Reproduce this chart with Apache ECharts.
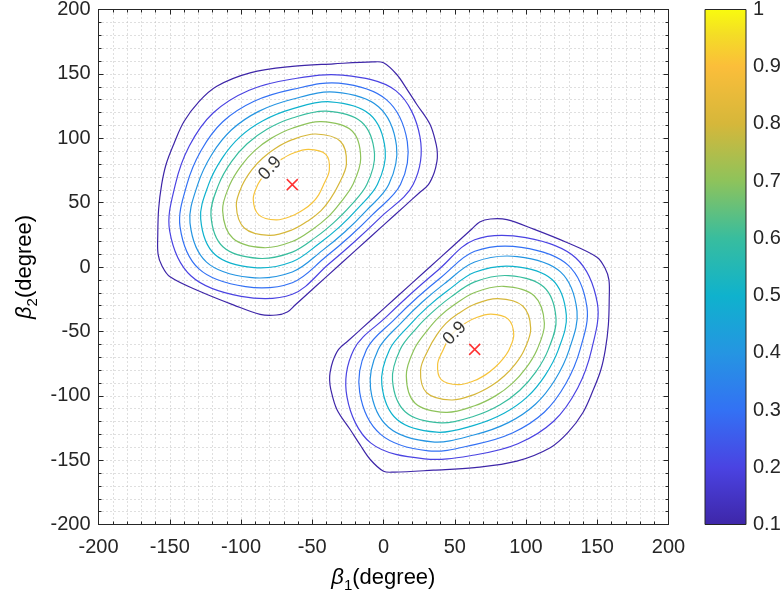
<!DOCTYPE html>
<html>
<head>
<meta charset="utf-8">
<script src="https://cdn.jsdelivr.net/npm/echarts@6/dist/echarts.min.js"></script>
<style>
  html, body { margin: 0; padding: 0; background: #ffffff; }
  #chart { width: 783px; height: 600px; }
</style>
</head>
<body>
<div id="chart"></div>
<script>
// Contour levels of the normalised spectrum and their parula colours
const levels = [0.1, 0.2, 0.3, 0.4, 0.5, 0.6, 0.7, 0.8, 0.9];
const levelColors = ['#3e26a8', '#4a43e2', '#3371f4', '#2595e2', '#0fb2cd',
                     '#38bd9e', '#8ec35b', '#d6b73a', '#f6c43c'];

// Tick values
const axisTicks = [-200, -150, -100, -50, 0, 50, 100, 150, 200];
const barTicks = [0.1, 0.2, 0.3, 0.4, 0.5, 0.6, 0.7, 0.8, 0.9, 1];

// Spectrum peaks (beta1, beta2)
const peakX = [-64, 64];
const peakY = [64, -64];

// Where the 0.9 contour is labelled
const labelX = [-79.5, 50];
const labelY = [76.6, -51.5];

// Closed contour rings around the peak at (-64, 64), points as [beta1, beta2]
const ringA01 = [[31.5,64],[35.5,73],[37.5,82],[37.8,88],[37,95],[32.7,110.6],[23.4,126.2],[16.5,138],[9.3,149.5],[0,158.6],[-7.5,159.3],[-35,157.8],[-64,155.8],[-93.6,150.8],[-117,140.4],[-129.5,128.5],[-140,113],[-147,96],[-152.5,80],[-155.7,64],[-157.8,45],[-158.4,25],[-158.2,10],[-155.5,1],[-149.8,-7.6],[-128.7,-19],[-105.4,-29.4],[-86.6,-36.8],[-75,-37.3],[-67.5,-35],[-62,-29.5],[-55,-22.5],[-40,-7.5],[-20,12.5],[0,32.5],[15,47.5],[25,57.5]];
const ringA02 = [[20.8,64],[25.6,101.1],[8.8,136.8],[-28.8,149],[-64,146],[-94.3,137.3],[-119.6,119.6],[-136.3,94],[-146.1,64],[-150.1,28.3],[-135,-7],[-99.9,-22.8],[-64,-21.2],[-38.4,2.3],[-20,20],[-2.3,38.4]];
const ringA03 = [[11.9,64],[16.7,97.4],[2,130],[-31.4,142.8],[-64,137.9],[-90.8,128.7],[-112.8,112.8],[-128,90.5],[-138,64],[-142.8,31.4],[-129.5,-1.5],[-96.8,-15.3],[-64,-12.2],[-40.7,7.7],[-23.7,23.7],[-7.7,40.7]];
const ringA04 = [[3.7,64],[9.1,94.3],[-3.5,124.5],[-34.3,135.8],[-64,130.3],[-87.6,120.9],[-106.6,106.6],[-120.5,87.4],[-130.4,64],[-135.8,34.3],[-124.2,3.8],[-93.9,-8.1],[-64,-3.9],[-42.8,12.9],[-27.2,27.2],[-12.9,42.8]];
const ringA05 = [[-4.3,64],[1.2,91],[-9.5,118.5],[-37.4,128.3],[-64,122.8],[-84.6,113.6],[-100.9,100.9],[-113.3,84.4],[-122.8,64],[-128.3,37.4],[-118.3,9.7],[-90.7,-0.5],[-64,4.1],[-45.1,18.3],[-31,31],[-18.3,45.1]];
const ringA06 = [[-11.7,64],[-6.3,87.9],[-15.4,112.6],[-40.3,121.1],[-64,115.7],[-81.8,107],[-95.7,95.7],[-106.8,81.7],[-115.7,64],[-121.1,40.3],[-112.5,15.5],[-87.7,6.7],[-64,11.6],[-47.2,23.4],[-34.7,34.7],[-23.4,47.2]];
const ringA07 = [[-21.5,64],[-16,84.4],[-22.2,105.8],[-43.8,112.9],[-64,107.8],[-78.9,99.9],[-90.4,90.4],[-99.8,78.8],[-107.8,64],[-112.9,43.8],[-105.7,22.3],[-84.3,15],[-64,19.8],[-49.6,29.4],[-38.9,38.9],[-30.5,49.6]];
const ringA08 = [[-31.5,64],[-26,80.3],[-30.3,97.7],[-47.7,103.3],[-64,98.9],[-75.7,92.3],[-84.7,84.7],[-92.3,75.7],[-98.9,64],[-103.3,47.7],[-97.7,30.3],[-80.3,24.6],[-64,28.9],[-52.5,36.2],[-43.8,43.8],[-37.5,52.5]];
const ringA09 = [[-42,64],[-38,75.4],[-40.5,87.5],[-52.6,91.4],[-64,88.2],[-72,83.4],[-78.1,78.1],[-83.4,72],[-88.2,64],[-91.4,52.6],[-87.5,40.5],[-75.4,36.6],[-64,39.8],[-56,44.6],[-49.9,49.9],[-45.5,56]];

// Closed contour rings around the peak at (64, -64)
const ringB01 = [[-31.5,-64],[-35.5,-73],[-37.5,-82],[-37.8,-88],[-37,-95],[-32.7,-110.6],[-23.4,-126.2],[-16.5,-138],[-9.3,-149.5],[0,-158.6],[7.5,-159.3],[35,-157.8],[64,-155.8],[93.6,-150.8],[117,-140.4],[129.5,-128.5],[140,-113],[147,-96],[152.5,-80],[155.7,-64],[157.8,-45],[158.4,-25],[158.2,-10],[155.5,-1],[149.8,7.6],[128.7,19],[105.4,29.4],[86.6,36.8],[75,37.3],[67.5,35],[62,29.5],[55,22.5],[40,7.5],[20,-12.5],[0,-32.5],[-15,-47.5],[-25,-57.5]];
const ringB02 = [[-20.8,-64],[-25.6,-101.1],[-8.8,-136.8],[28.8,-149],[64,-146],[94.3,-137.3],[119.6,-119.6],[136.3,-94],[146.1,-64],[150.1,-28.3],[135,7],[99.9,22.8],[64,21.2],[38.4,-2.3],[20,-20],[2.3,-38.4]];
const ringB03 = [[-11.9,-64],[-16.7,-97.4],[-2,-130],[31.4,-142.8],[64,-137.9],[90.8,-128.7],[112.8,-112.8],[128,-90.5],[138,-64],[142.8,-31.4],[129.5,1.5],[96.8,15.3],[64,12.2],[40.7,-7.7],[23.7,-23.7],[7.7,-40.7]];
const ringB04 = [[-3.7,-64],[-9.1,-94.3],[3.5,-124.5],[34.3,-135.8],[64,-130.3],[87.6,-120.9],[106.6,-106.6],[120.5,-87.4],[130.4,-64],[135.8,-34.3],[124.2,-3.8],[93.9,8.1],[64,3.9],[42.8,-12.9],[27.2,-27.2],[12.9,-42.8]];
const ringB05 = [[4.3,-64],[-1.2,-91],[9.5,-118.5],[37.4,-128.3],[64,-122.8],[84.6,-113.6],[100.9,-100.9],[113.3,-84.4],[122.8,-64],[128.3,-37.4],[118.3,-9.7],[90.7,0.5],[64,-4.1],[45.1,-18.3],[31,-31],[18.3,-45.1]];
const ringB06 = [[11.7,-64],[6.3,-87.9],[15.4,-112.6],[40.3,-121.1],[64,-115.7],[81.8,-107],[95.7,-95.7],[106.8,-81.7],[115.7,-64],[121.1,-40.3],[112.5,-15.5],[87.7,-6.7],[64,-11.6],[47.2,-23.4],[34.7,-34.7],[23.4,-47.2]];
const ringB07 = [[21.5,-64],[16,-84.4],[22.2,-105.8],[43.8,-112.9],[64,-107.8],[78.9,-99.9],[90.4,-90.4],[99.8,-78.8],[107.8,-64],[112.9,-43.8],[105.7,-22.3],[84.3,-15],[64,-19.8],[49.6,-29.4],[38.9,-38.9],[30.5,-49.6]];
const ringB08 = [[31.5,-64],[26,-80.3],[30.3,-97.7],[47.7,-103.3],[64,-98.9],[75.7,-92.3],[84.7,-84.7],[92.3,-75.7],[98.9,-64],[103.3,-47.7],[97.7,-30.3],[80.3,-24.6],[64,-28.9],[52.5,-36.2],[43.8,-43.8],[37.5,-52.5]];
const ringB09 = [[42,-64],[38,-75.4],[40.5,-87.5],[52.6,-91.4],[64,-88.2],[72,-83.4],[78.1,-78.1],[83.4,-72],[88.2,-64],[91.4,-52.6],[87.5,-40.5],[75.4,-36.6],[64,-39.8],[56,-44.6],[49.9,-49.9],[45.5,-56]];

const ringsA = [ringA01, ringA02, ringA03, ringA04, ringA05, ringA06, ringA07, ringA08, ringA09];
const ringsB = [ringB01, ringB02, ringB03, ringB04, ringB05, ringB06, ringB07, ringB08, ringB09];

const FONT = '"Liberation Sans", Arial, Helvetica, sans-serif';
const INK = '#262626';
const GRID_DOT = { color: '#bfbfbf', width: 1, type: [1, 3] };

// Colour bar gradient (parula), bottom to top
const parulaStops = [
  { offset: 0.000, color: '#3e26a8' },
  { offset: 0.111, color: '#4a43e2' },
  { offset: 0.222, color: '#3371f4' },
  { offset: 0.333, color: '#2595e2' },
  { offset: 0.444, color: '#0fb2cd' },
  { offset: 0.556, color: '#38bd9e' },
  { offset: 0.667, color: '#8ec35b' },
  { offset: 0.778, color: '#d6b73a' },
  { offset: 0.889, color: '#fbbe3a' },
  { offset: 0.950, color: '#f4dd26' },
  { offset: 1.000, color: '#f9fb0e' }
];

function frameAxis(extra) {
  return Object.assign({
    type: 'value', min: axisTicks[0], max: axisTicks[axisTicks.length - 1], interval: 50,
    axisLine: { show: true, onZero: false, lineStyle: { color: INK, width: 1 } },
    axisTick: { show: true, inside: true, length: 5, lineStyle: { color: INK } },
    minorTick: { show: true, splitNumber: 5, length: 3, lineStyle: { color: INK } },
    axisLabel: { show: false },
    splitLine: { show: false },
    minorSplitLine: { show: false }
  }, extra);
}

const tickLabel = { show: true, color: INK, fontSize: 20, fontFamily: FONT,
                    showMinLabel: true, showMaxLabel: true };

// one closed smooth outline per contour ring
const contourSeries = [];
levels.forEach(function (lv, i) {
  [ringsA[i], ringsB[i]].forEach(function (ring) {
    contourSeries.push({
      type: 'custom',
      name: 'level ' + lv,
      xAxisIndex: 0, yAxisIndex: 0,
      silent: true,
      clip: true,
      data: ring,
      renderItem: function (params, api) {
        if (params.dataIndex !== 0) return null;
        return {
          type: 'polygon',
          shape: { points: ring.map(function (p) { return api.coord(p); }), smooth: 0.35 },
          style: { fill: 'none', stroke: levelColors[i], lineWidth: 1.2 }
        };
      }
    });
  });
});

// axis titles: beta with a lowered index, then the unit
const titleRich = {
  b: { fontSize: 22, fontStyle: 'italic', fontFamily: FONT, color: INK, verticalAlign: 'top' },
  s: { fontSize: 15, fontFamily: FONT, color: INK, lineHeight: 27, verticalAlign: 'bottom' },
  t: { fontSize: 22, fontFamily: FONT, color: INK, verticalAlign: 'top' }
};

const option = {
  backgroundColor: '#ffffff',
  animation: false,
  grid: [
    { left: 98.5, top: 9.5, width: 570, height: 515, containLabel: false, outerBoundsMode: 'none' },
    { left: 705, top: 9.5, width: 41, height: 515, containLabel: false, outerBoundsMode: 'none' }
  ],
  xAxis: [
    frameAxis({ gridIndex: 0, position: 'bottom',
      axisLabel: Object.assign({ margin: 13 }, tickLabel),
      splitLine: { show: true, lineStyle: GRID_DOT },
      minorSplitLine: { show: true, lineStyle: GRID_DOT } }),
    frameAxis({ gridIndex: 0, position: 'top' }),
    { gridIndex: 1, type: 'value', min: 0, max: 1, show: false }
  ],
  yAxis: [
    frameAxis({ gridIndex: 0, position: 'left',
      axisLabel: Object.assign({ margin: 8 }, tickLabel),
      splitLine: { show: true, lineStyle: GRID_DOT },
      minorSplitLine: { show: true, lineStyle: GRID_DOT } }),
    frameAxis({ gridIndex: 0, position: 'right' }),
    {
      gridIndex: 1, type: 'value', position: 'right',
      min: barTicks[0], max: barTicks[barTicks.length - 1], interval: 0.1,
      axisLine: { show: false, onZero: false },
      axisTick: { show: true, inside: true, length: 5, lineStyle: { color: INK } },
      axisLabel: Object.assign({ margin: 7 }, tickLabel),
      splitLine: { show: false }
    }
  ],
  graphic: [
    { type: 'text', x: 383.4, y: 580,
      style: { text: '{b|β}{s|1}{t|(degree)}', rich: titleRich, align: 'center', verticalAlign: 'middle' } },
    { type: 'text', x: 27, y: 267, rotation: Math.PI / 2,
      style: { text: '{b|β}{s|2}{t|(degree)}', rich: titleRich, align: 'center', verticalAlign: 'middle' } }
  ],
  series: contourSeries.concat([
    {
      type: 'scatter', name: 'contour label', xAxisIndex: 0, yAxisIndex: 0, silent: true, z: 3,
      symbolSize: 1, itemStyle: { color: 'rgba(0,0,0,0)' },
      data: [
        { value: [labelX[0], labelY[0]], label: { rotate: 48 } },
        { value: [labelX[1], labelY[1]], label: { rotate: 45 } }
      ],
      label: {
        show: true, position: 'inside', formatter: levels[8].toFixed(1),
        fontSize: 18, fontFamily: FONT, color: '#000000',
        backgroundColor: '#ffffff', padding: [0, 1]
      }
    },
    {
      type: 'scatter', name: 'peak', xAxisIndex: 0, yAxisIndex: 0, silent: true, z: 4,
      data: peakX.map(function (x, i) { return [x, peakY[i]]; }),
      symbol: 'path://M0,0L10,10M0,10L10,0', symbolSize: 11,
      itemStyle: { color: 'rgba(0,0,0,0)', borderColor: '#ff0000', borderWidth: 1.5 }
    },
    {
      type: 'custom', name: 'colorbar', xAxisIndex: 2, yAxisIndex: 2, silent: true,
      data: [[0, barTicks[0], 1, barTicks[barTicks.length - 1]]],
      renderItem: function (params, api) {
        const p0 = api.coord([api.value(0), api.value(1)]);
        const p1 = api.coord([api.value(2), api.value(3)]);
        return {
          type: 'rect',
          shape: { x: p0[0], y: p1[1], width: p1[0] - p0[0], height: p0[1] - p1[1] },
          style: {
            fill: { type: 'linear', x: 0, y: 1, x2: 0, y2: 0, colorStops: parulaStops },
            stroke: INK, lineWidth: 1
          }
        };
      }
    }
  ])
};

const chart = echarts.init(document.getElementById('chart'), null, { renderer: 'canvas' });
chart.setOption(option);
</script>
</body>
</html>
